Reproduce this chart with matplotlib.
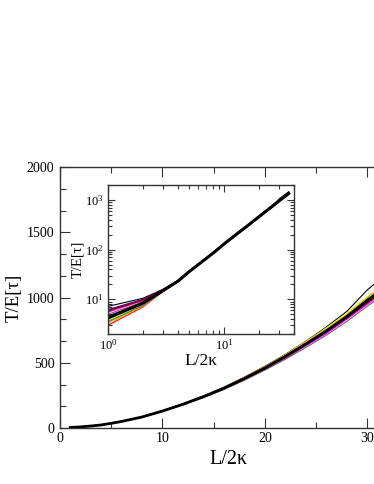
import matplotlib
matplotlib.use('Agg')
import matplotlib.pyplot as plt
from matplotlib.ticker import MultipleLocator, LogLocator, NullFormatter

plt.rcParams['font.family'] = ['Liberation Serif', 'DejaVu Serif']
plt.rcParams['mathtext.fontset'] = 'stix'

# L/2kappa sample points shared by all runs
L = [1, 2, 3, 4, 5, 6, 8, 10, 12, 14, 16, 18, 20, 22, 24, 26, 28, 30, 32, 34, 36]

# T/E[tau] for the individual runs (thin lines)
runs = {
    'black':     [7.2, 10.5, 16.0, 23.8, 36.8, 50.8, 85.5, 132, 186, 246, 313, 390, 474, 565, 665, 775, 895, 1060, 1190, 1320, 1460],
    'red':       [3.0, 7.0, 14.5, 22.5, 35.0, 49.0, 83, 128, 180, 236, 298, 372, 448, 530, 640, 735, 845, 965, 1075, 1190, 1330],
    'lime':      [3.6, 7.6, 14.8, 22.5, 35.5, 49.5, 84, 130, 183, 241, 306, 378, 462, 552, 650, 752, 868, 995, 1105, 1225, 1360],
    'blue':      [4.6, 8.6, 15.2, 23.0, 36.0, 50.0, 84, 130, 181, 239, 304, 380, 458, 548, 642, 740, 850, 972, 1085, 1205, 1345],
    'yellow':    [3.8, 8.0, 15.0, 23.2, 36.2, 50.5, 85, 131, 184, 243, 309, 386, 470, 562, 662, 768, 880, 1010, 1120, 1240, 1380],
    'sienna':    [5.0, 8.8, 15.3, 23.3, 36.3, 50.4, 84.5, 131, 183, 240, 302, 375, 455, 545, 635, 735, 842, 960, 1070, 1190, 1320],
    'darkviolet':[6.0, 9.8, 15.8, 23.6, 36.6, 50.8, 85, 131, 182, 238, 300, 372, 452, 540, 632, 728, 838, 955, 1065, 1180, 1310],
    'cyan':      [4.3, 8.3, 15.0, 23.0, 36.0, 50.0, 84, 130, 183, 242, 308, 384, 466, 556, 655, 758, 870, 1000, 1110, 1230, 1370],
    'magenta':   [5.5, 9.4, 15.5, 23.4, 36.4, 50.6, 84.5, 130, 181, 237, 301, 374, 450, 538, 630, 725, 835, 950, 1060, 1175, 1300],
    'orange':    [3.2, 7.3, 14.6, 22.6, 35.4, 49.6, 83.5, 129, 182, 241, 310, 388, 470, 560, 660, 760, 872, 1000, 1115, 1235, 1375],
    'indigo':    [6.2, 10.0, 16.0, 23.8, 36.8, 51.0, 85.5, 132, 184, 242, 306, 380, 460, 548, 645, 745, 852, 975, 1085, 1200, 1340],
    'maroon':    [5.8, 9.6, 15.6, 23.5, 36.5, 50.7, 85, 131, 183, 240, 303, 376, 457, 546, 640, 738, 845, 962, 1072, 1192, 1325],
    'turquoise': [4.0, 8.1, 14.9, 22.9, 35.9, 50.0, 84, 130, 182, 241, 307, 383, 463, 553, 650, 750, 862, 988, 1100, 1220, 1360],
    'dimgray':   [3.5, 7.5, 14.7, 22.6, 35.4, 49.4, 83, 128, 178, 233, 295, 366, 444, 528, 618, 712, 818, 935, 1045, 1160, 1290],
}

# average over runs (thick black line)
mean_T = [4.2, 8.4, 15.1, 23.1, 36.0, 50.1, 84.2, 130, 182, 240, 305, 380, 460, 550, 645, 745, 855, 980, 1090, 1210, 1350]


def draw_curves(ax, thin_lw, thick_lw):
    for color, T in runs.items():
        ax.plot(L, T, color=color, lw=thin_lw)
    ax.plot(L, mean_T, color='black', lw=thick_lw)


def style_axis(ax, major_len, minor_len):
    for side in ax.spines.values():
        side.set_linewidth(1.0)
        side.set_color('#333333')
    ax.tick_params(which='both', direction='in', top=True, right=True, width=0.8, colors='#333333')
    ax.tick_params(which='major', length=major_len)
    ax.tick_params(which='minor', length=minor_len)


fig = plt.figure(figsize=(3.74, 4.84), dpi=100)

# main axes (the original is wider, so it runs past the right border)
ax = fig.add_axes([0.1604, 0.1157, 0.9866, 0.539])
draw_curves(ax, 0.8, 2.0)
ax.set_xlim(0, 36)
ax.set_ylim(0, 2000)
ax.xaxis.set_major_locator(MultipleLocator(10))
ax.xaxis.set_minor_locator(MultipleLocator(5))
ax.yaxis.set_major_locator(MultipleLocator(500))
ax.yaxis.set_minor_locator(MultipleLocator(500 / 3))
style_axis(ax, 7, 4)
ax.tick_params(labelsize=10, labelcolor='black')
ax.tick_params(axis='y', pad=4)
ax.tick_params(axis='x', pad=3)
ax.set_xlabel('L/2κ', fontsize=14.5)
ax.set_ylabel('T/E[τ]', fontsize=13.5)
ax.xaxis.set_label_coords(0.4565, -0.085)
ax.yaxis.set_label_coords(-0.1, 0.5)

# log-log inset
ins = fig.add_axes([0.2888, 0.3099, 0.4973, 0.3079])
draw_curves(ins, 0.8, 2.2)
ins.set_xscale('log')
ins.set_yscale('log')
ins.set_xlim(1, 40)
ins.set_ylim(2, 2000)
ins.xaxis.set_major_locator(LogLocator(base=10))
ins.xaxis.set_minor_locator(LogLocator(base=10, subs=range(2, 10)))
ins.yaxis.set_major_locator(LogLocator(base=10))
ins.yaxis.set_minor_locator(LogLocator(base=10, subs=range(2, 10)))
ins.xaxis.set_minor_formatter(NullFormatter())
ins.yaxis.set_minor_formatter(NullFormatter())
style_axis(ins, 5, 3)
ins.tick_params(labelsize=9, labelcolor='black', pad=3)
ins.set_xlabel('L/2κ', fontsize=12.5, labelpad=0)
ins.set_ylabel('T/E[τ]', fontsize=10.5)
ins.yaxis.set_label_coords(-0.13, 0.5)

fig.savefig('out.png', dpi=100)
